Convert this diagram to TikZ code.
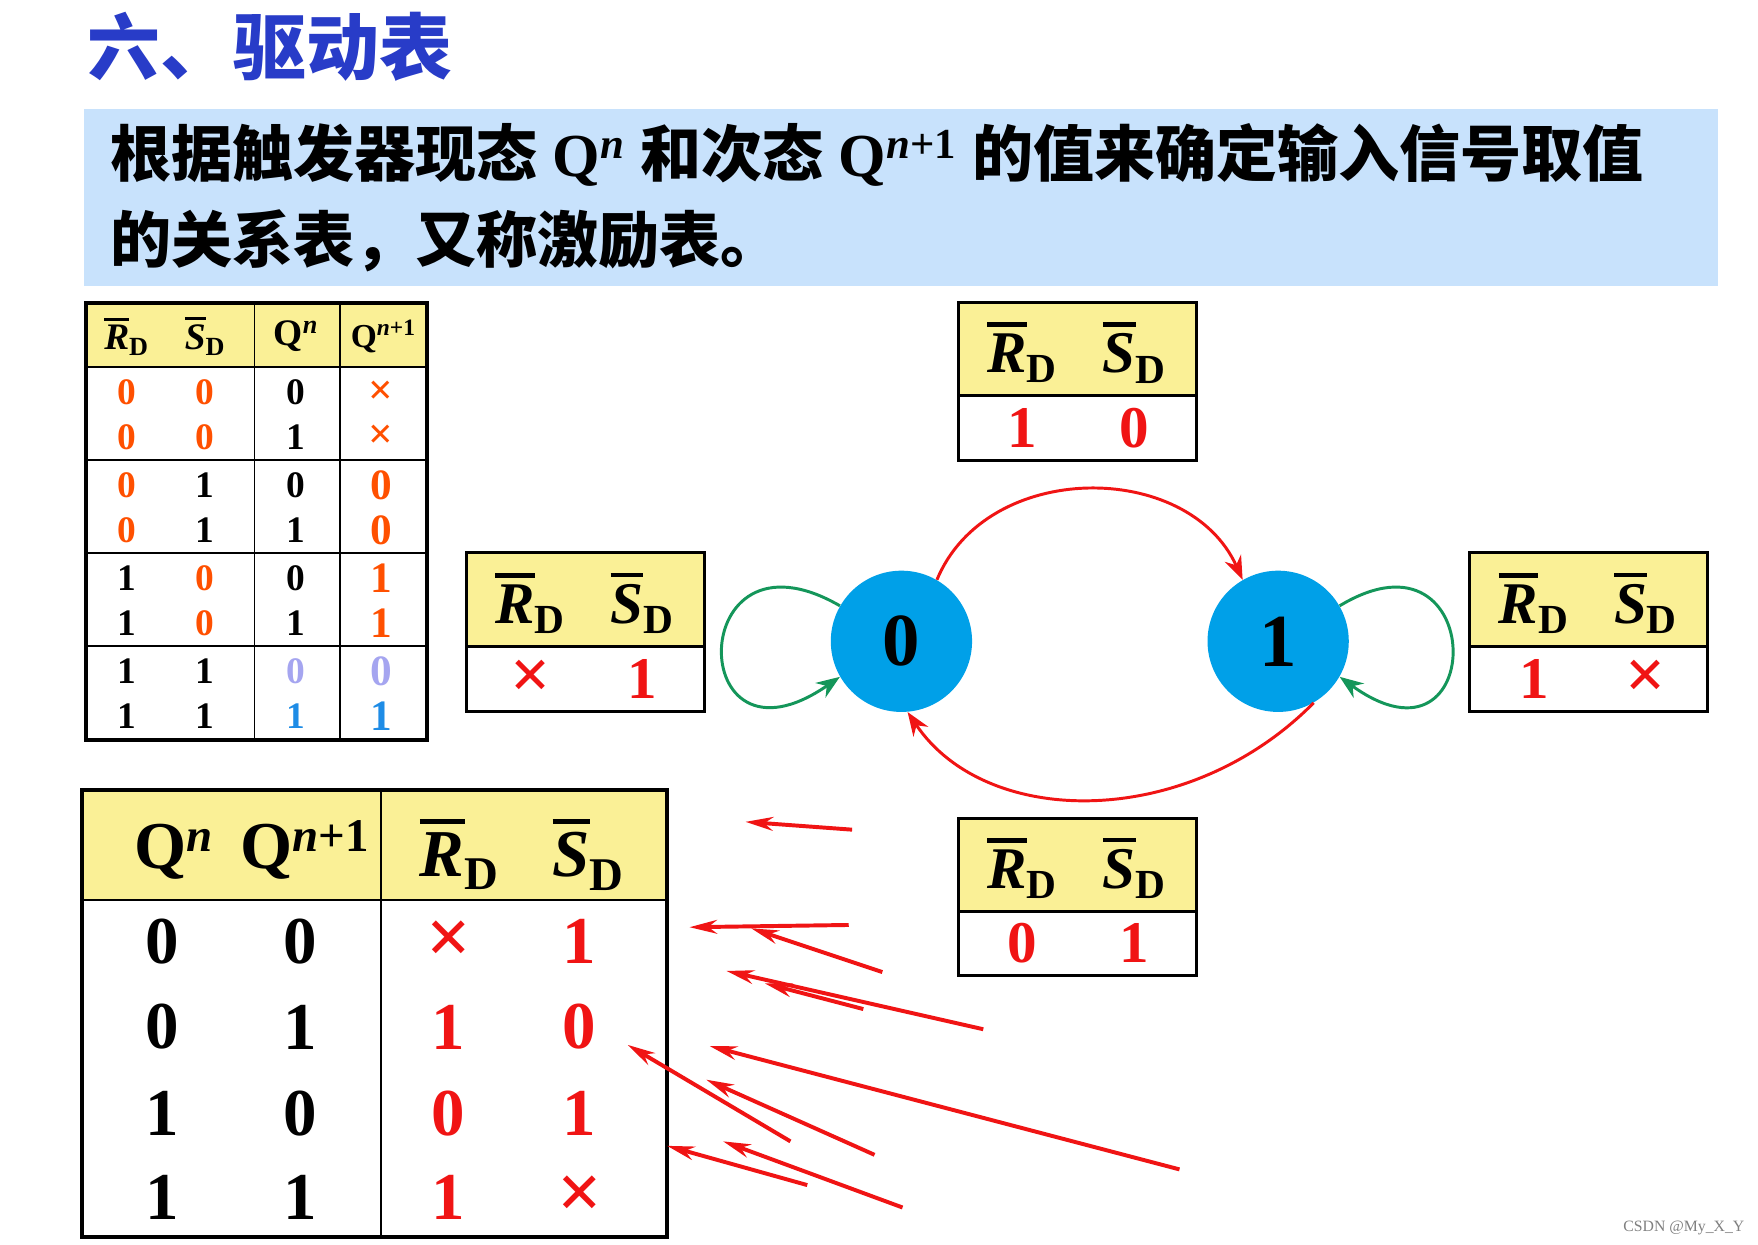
\documentclass[tikz,border=0pt]{standalone}
\usepackage{fontspec}
\setmainfont{Liberation Serif}
\newfontfamily\cjk{Noto Sans CJK SC}
\usetikzlibrary{arrows.meta}
\definecolor{ttl}{RGB}{40,60,200}
\definecolor{ban}{RGB}{200,226,252}
\definecolor{yel}{RGB}{250,240,150}
\definecolor{org}{RGB}{255,80,0}
\definecolor{rd}{RGB}{240,20,20}
\definecolor{cb}{RGB}{0,160,232}
\definecolor{gr}{RGB}{20,150,90}
\definecolor{lp}{RGB}{165,165,240}
\definecolor{bl}{RGB}{30,140,230}
\newcommand{\ovl}[1]{\leavevmode\hbox{\setbox0\hbox{#1}\rlap{\raisebox{\dimexpr\ht0+0.12em}{\rule{\wd0}{0.08em}}}\box0}}
\newcommand{\RDx}{\ovl{\textbf{\textit{R}}}\textsubscript{\textbf{D}}}
\newcommand{\SDx}{\ovl{\textbf{\textit{S}}}\textsubscript{\textbf{D}}}
\newcommand{\Qn}{\textbf{Q}\textsuperscript{\textbf{\textit{n}}}}
\newcommand{\Qnn}{\textbf{Q}\textsuperscript{\textbf{\textit{n}}\textbf{+1}}}
\tikzset{
 sm/.style={font=\fontsize{19}{19}\selectfont\bfseries},
 bg/.style={font=\fontsize{34}{34}\selectfont\bfseries},
 bx/.style={font=\fontsize{30}{30}\selectfont\bfseries},
 ann/.style={draw=rd,line width=2pt,-{Stealth[length=14pt,width=7pt]}},
 frame/.style={draw=black,line width=2pt},
}
\begin{document}
\begin{tikzpicture}[x=0.02cm,y=-0.02cm]
\useasboundingbox (0,0) rectangle (1568,1110.4);
\fill[white] (0,0) rectangle (1568,1110.4);
% title
\node[anchor=west,text=ttl,font=\cjk\bfseries\fontsize{37}{37}\selectfont] (title) at (72,42) {六、驱动表};
% banner
\fill[ban] (75,97) rectangle (1532,255);
\node[anchor=west,font=\fontsize{31}{31}\selectfont] (l1) at (92,138) {{\cjk\bfseries 根据触发器现态} \Qn\ {\cjk\bfseries 和次态} \Qnn\ {\cjk\bfseries 的值来确定输入信号取值}};
\node[anchor=west,font=\cjk\bfseries\fontsize{31}{31}\selectfont] (l2) at (92,215) {的关系表，又称激励表。};
% small table
\fill[yel] (77,270) rectangle (381,327);
\draw[frame] (77,270) rectangle (381,660);
\draw[line width=1pt] (77,327)--(381,327) (227,270)--(227,660) (303,270)--(303,660);
\foreach \y in {410,493,576} \draw[line width=1pt] (77,\y)--(381,\y);
\node[sm] (h1) at (113,300) {\RDx};
\node[sm] (h2) at (183,300) {\SDx};
\node[sm] (h3) at (264,300) {\Qn};
\node[sm,font=\fontsize{17}{17}\selectfont\bfseries] (h4) at (342,300) {\Qnn};
\foreach \y/\a/\b/\c/\d/\ca/\cb/\cc/\cd in {
 350/0/0/0/×/org/org/black/org,
 390/0/0/1/×/org/org/black/org,
 433/0/1/0/0/org/black/black/org,
 473/0/1/1/0/org/black/black/org,
 516/1/0/0/1/black/org/black/org,
 556/1/0/1/1/black/org/black/org,
 599/1/1/0/0/black/black/lp/lp,
 639/1/1/1/1/black/black/bl/bl}{
 \node[sm,text=\ca] at (113,\y) {\a};
 \node[sm,text=\cb] at (183,\y) {\b};
 \node[sm,text=\cc] at (264,\y) {\c};
 \node[sm,text=\cd,font=\fontsize{22}{22}\selectfont\bfseries] at (340,\y) {\d};
}
% big table
\fill[yel] (73,705) rectangle (595,803);
\draw[frame] (73,705) rectangle (595,1103);
\draw[line width=1.2pt] (73,803)--(595,803) (340,705)--(340,1103);
\node[bg] (H1) at (155,760) {\Qn};
\node[bg] (H2) at (272,758) {\Qnn};
\node[bg] (H3) at (410,762) {\RDx};
\node[bg] (H4) at (525,762) {\SDx};
\foreach \y/\a/\b/\c/\d in {840/0/0/×/1, 916/0/1/1/0, 993/1/0/0/1, 1068/1/1/1/×}{
 \node[bg] at (145,\y) {\a};
 \node[bg] at (268,\y) {\b};
 \node[bg,text=rd,font=\fontsize{\if×\c 40\else 34\fi}{34}\selectfont\bfseries] at (400,\y) {\c};
 \node[bg,text=rd,font=\fontsize{\if×\d 40\else 34\fi}{34}\selectfont\bfseries] at (517,\y) {\d};
}
% state boxes
\foreach \n/\x/\ya/\yb/\yc/\a/\b in {T/855/270/353/411/1/0, L/416/493/577/635/×/1, R/1311/493/577/635/1/×, B/855/730/813/870/0/1}{
 \fill[yel] (\x,\ya) rectangle (\x+212,\yb);
 \draw[line width=1.5pt] (\x,\ya) rectangle (\x+212,\yc) (\x,\yb)--(\x+212,\yb);
 \node[bx] (\n r) at (\x+57,{(\ya+\yb)/2+3}) {\RDx};
 \node[bx] (\n s) at (\x+157,{(\ya+\yb)/2+3}) {\SDx};
 \node[bx,text=rd,font=\fontsize{\if×\a 36\else 30\fi}{30}\selectfont\bfseries] (\n a) at (\x+57,{(\yb+\yc)/2}) {\a};
 \node[bx,text=rd,font=\fontsize{\if×\b 36\else 30\fi}{30}\selectfont\bfseries] (\n b) at (\x+157,{(\yb+\yc)/2}) {\b};
}
% states
\node[circle,fill=cb,minimum size=126*0.02cm,inner sep=0,font=\fontsize{38}{38}\selectfont\bfseries] (s0) at (804,572) {0};
\node[circle,fill=cb,minimum size=126*0.02cm,inner sep=0,font=\fontsize{38}{38}\selectfont\bfseries] (s1) at (1140,572) {1};
\draw[draw=rd,line width=1.5pt,-{Stealth[length=12pt,width=9pt]}] (s0.60) .. controls (880,410) and (1060,410) .. (s1.120);
\draw[draw=rd,line width=1.5pt,-{Stealth[length=12pt,width=9pt]}] (s1.-60) .. controls (1060,740) and (880,740) .. (s0.-85);
\draw[draw=gr,line width=1.5pt,-{Stealth[length=12pt,width=9pt]}] (s0.150) .. controls (610,460) and (610,700) .. (s0.-150);
\draw[draw=gr,line width=1.5pt,-{Stealth[length=12pt,width=9pt]}] (s1.30) .. controls (1328,460) and (1328,700) .. (s1.-30);
% annotation arrows
\coordinate (a1) at (760,740); \coordinate (b1) at (665,733);
\coordinate (a2) at (757,825); \coordinate (b2) at (615,827);
\coordinate (a3) at (787,867); \coordinate (b3) at (670,828);
\coordinate (a4) at (877,918); \coordinate (b4) at (648,866);
\coordinate (a5) at (770,900); \coordinate (b5) at (682,877);
\coordinate (a6) at (1052,1043); \coordinate (b6) at (633,933);
\coordinate (a7) at (780,1030); \coordinate (b7) at (630,963);
\coordinate (a8) at (705,1018); \coordinate (b8) at (560,932);
\coordinate (a9) at (720,1057); \coordinate (b9) at (595,1022);
\coordinate (a10) at (805,1077); \coordinate (b10) at (645,1018);
\foreach \i in {1,...,10} \draw[ann] (a\i) -- (b\i);
\node[anchor=east,text=gray,font=\fontsize{8}{8}\selectfont] (wm) at (1562,1095) {CSDN @My\_X\_Y};
\end{tikzpicture}
\end{document}
